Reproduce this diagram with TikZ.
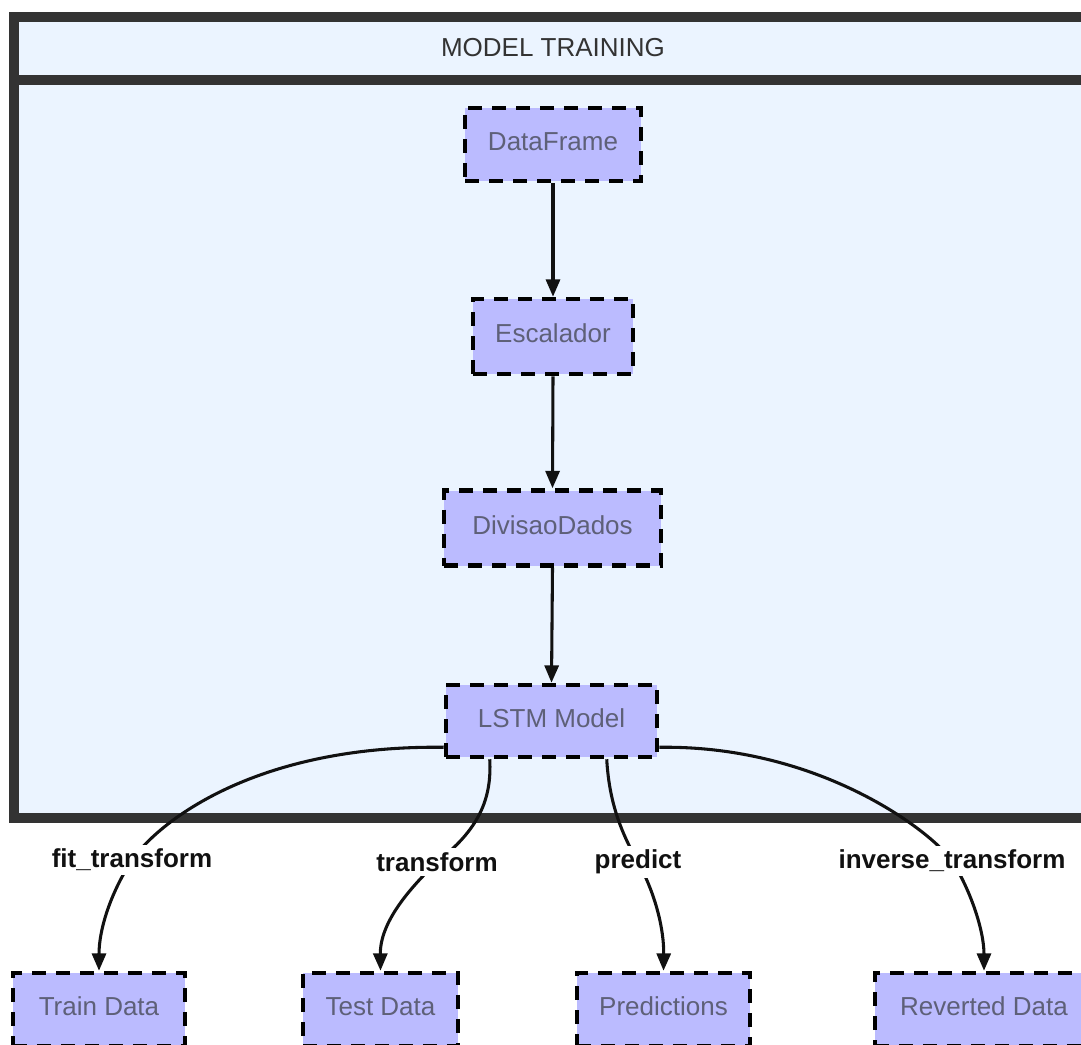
\documentclass[tikz,border=0pt]{standalone}
\usepackage{fontspec}
\setmainfont{Liberation Sans}
\usetikzlibrary{arrows.meta,calc}
\pgfdeclarelayer{bg}
\pgfdeclarelayer{edges}
\pgfsetlayers{bg,edges,main}
\definecolor{framefill}{RGB}{235,244,255}
\definecolor{framedraw}{RGB}{51,51,51}
\definecolor{boxfill}{RGB}{187,187,255}
\definecolor{boxtext}{RGB}{94,96,120}
\definecolor{edgecol}{RGB}{17,17,17}
\tikzset{
  stepbox/.style={rectangle, fill=boxfill, draw=black, line width=3.4pt,
    dash pattern=on 10.5pt off 7.5pt, text=boxtext,
    font=\fontsize{19.5}{23}\selectfont, inner sep=0pt,
    text height=14pt, text depth=4.5pt},
  flow/.style={draw=edgecol, line width=2.3pt,
    -{Triangle[length=13pt,width=10.5pt]}},
  edgelabel/.style={fill=white, inner sep=3pt, text=edgecol,
    font=\fontsize{19.5}{23}\selectfont\bfseries},
  frameline/.style={draw=framedraw, line width=7.5pt}
}
\begin{document}
\begin{tikzpicture}[x=0.75pt,y=-0.75pt]
  \useasboundingbox (0,0) rectangle (1081,1045);
  \clip (0,0) rectangle (1081,1045);

  % training frame with header band
  \begin{pgfonlayer}{bg}
    \fill[framefill] (14,17) rectangle (1100,818);
    \draw[frameline] (1100,17) -- (14,17) -- (14,818) -- (1100,818);
    \draw[frameline] (14,80.5) -- (1100,80.5);
  \end{pgfonlayer}
  \node[text=framedraw, font=\fontsize{19.5}{23}\selectfont] (title) at (553,48) {MODEL TRAINING};

  % pipeline steps
  \node[stepbox, minimum width=132pt, minimum height=54.75pt] (df)   at (553,144.5) {DataFrame};
  \node[stepbox, minimum width=120pt, minimum height=56.25pt] (esc)  at (553,336.5) {Escalador};
  \node[stepbox, minimum width=162.75pt, minimum height=56.25pt] (div) at (552.5,528) {DivisaoDados};
  \node[stepbox, minimum width=158.25pt, minimum height=54pt] (lstm) at (551.5,721) {LSTM Model};

  % outputs
  \node[stepbox, minimum width=129pt, minimum height=54.75pt] (train) at (99,1009.5) {Train Data};
  \node[stepbox, minimum width=116.25pt, minimum height=54.75pt] (test) at (380.5,1009.5) {Test Data};
  \node[stepbox, minimum width=129.75pt, minimum height=54.75pt] (pred) at (663.5,1009.5) {Predictions};
  \node[stepbox, minimum width=163.5pt, minimum height=54.75pt] (rev) at (984,1009.5) {Reverted Data};

  % operation labels
  \node[edgelabel] (l1) at (132,860) {fit\_transform};
  \node[edgelabel] (l2) at (437,862) {transform};
  \node[edgelabel] (l3) at (638,862) {predict};
  \node[edgelabel] (l4) at (952,861) {inverse\_transform};

  \begin{pgfonlayer}{edges}
    \draw[flow] (df.south) -- (esc.north);
    \draw[flow] (esc.south) -- (div.north);
    \draw[flow] (div.south) -- (lstm.north);

    \draw[flow] ($(lstm.south west)+(0,-12)$)
      .. controls (260,745) and (162,818) .. (l1.center)
      .. controls (110,894) and (99,930) .. (train.north);
    \draw[flow] ($(lstm.south west)+(46,0)$)
      .. controls (492,800) and (478,830) .. (l2.center)
      .. controls (410,888) and (380,922) .. (test.north);
    \draw[flow] ($(lstm.south west)+(163,0)$)
      .. controls (609,800) and (620,831) .. (l3.center)
      .. controls (656,895) and (664,930) .. (pred.north);
    \draw[flow] ($(lstm.south east)+(0,-12)$)
      .. controls (820,745) and (932,832) .. (l4.center)
      .. controls (970,889) and (984,930) .. (rev.north);
  \end{pgfonlayer}
\end{tikzpicture}
\end{document}
